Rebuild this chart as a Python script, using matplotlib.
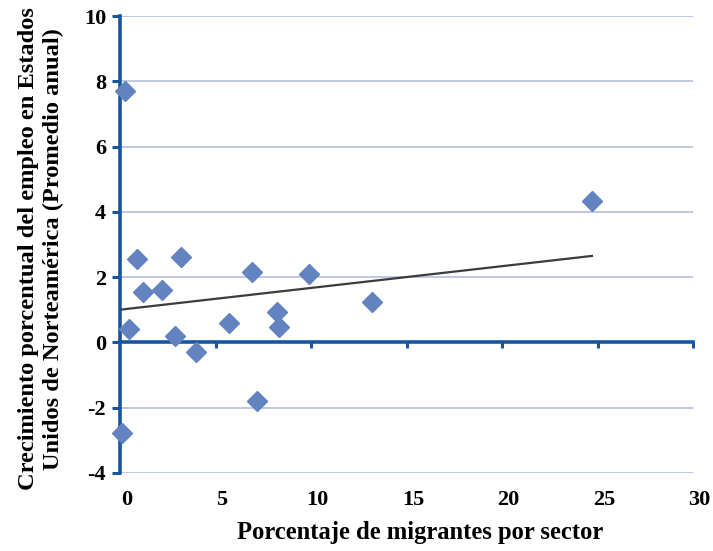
import numpy as np
import matplotlib
matplotlib.use("Agg")
import matplotlib.pyplot as plt
from matplotlib.transforms import ScaledTranslation

# ---- data ----
pct_migrants = [0.26, 0.08, 0.47, 0.89, 1.20, 2.20, 2.88, 3.19, 3.98,
                5.71, 6.91, 7.17, 8.22, 8.32, 9.90, 13.19, 24.71]
emp_growth = [7.70, -2.78, 0.42, 2.57, 1.53, 1.62, 0.21, 2.63, -0.30,
              0.61, 2.17, -1.80, 0.92, 0.46, 2.11, 1.25, 4.34]
x_ticks = [0, 5, 10, 15, 20, 25, 30]
y_ticks = [-4, -2, 0, 2, 4, 6, 8, 10]
x_label = "Porcentaje de migrantes por sector"
y_label = "Crecimiento porcentual del empleo en Estados\nUnidos de Norteamérica (Promedio anual)"

AXIS_BLUE = "#17569f"
GRID = "#b3bfe3"
MARKER = "#6283c0"
TREND = "#3c3c3c"

plt.rcParams["font.family"] = ["Liberation Serif", "DejaVu Serif"]
plt.rcParams["font.weight"] = "bold"
plt.rcParams["axes.unicode_minus"] = False

fig = plt.figure(figsize=(7.13, 5.51), dpi=100)
ax = fig.add_axes([120 / 713, 78 / 551, 573 / 713, 457 / 551])
ax.set_xlim(x_ticks[0], x_ticks[-1])
ax.set_ylim(y_ticks[0], y_ticks[-1])

# grid
ax.set_yticks(y_ticks)
ax.yaxis.grid(True, color=GRID, linewidth=1.2)
ax.set_axisbelow(True)

# spines
for s in ("top", "right"):
    ax.spines[s].set_visible(False)
ax.spines["left"].set_color(AXIS_BLUE)
ax.spines["left"].set_linewidth(2.6)
ax.spines["left"].set_zorder(3)
ax.spines["bottom"].set_position(("data", 0))
ax.spines["bottom"].set_color(AXIS_BLUE)
ax.spines["bottom"].set_linewidth(2.6)
ax.spines["bottom"].set_zorder(3)

ax.set_xticks(x_ticks[1:])
ax.tick_params(axis="x", direction="out", length=4.5, width=2.2,
               color=AXIS_BLUE, labelbottom=False)
ax.tick_params(axis="y", direction="out", length=6, width=2.2,
               color=AXIS_BLUE, labelsize=16, pad=4)

# x tick labels along the bottom edge
sec = ax.secondary_xaxis("bottom")
sec.set_xticks(x_ticks)
sec.spines["bottom"].set_visible(False)
sec.tick_params(length=0, labelsize=16, pad=12)
off = ScaledTranslation(6.5 / 100, 0, fig.dpi_scale_trans)
for t in sec.xaxis.get_major_ticks():
    t.label1.set_transform(t.label1.get_transform() + off)

# scatter
ax.plot(pct_migrants, emp_growth, linestyle="none", marker="D",
        markersize=10, color=MARKER, clip_on=False, zorder=4)

# linear trend line
xs = np.array(pct_migrants)
ys = np.array(emp_growth)
slope, intercept = np.polyfit(xs, ys, 1)
xl = np.array([xs.min(), xs.max()])
ax.plot(xl, slope * xl + intercept, color=TREND, linewidth=1.6, zorder=5)

# axis titles
fig.text(420 / 713, 1 - 533 / 551, x_label, ha="center", va="center",
         fontsize=17.7, fontweight="bold")
fig.text(41 / 713, 1 - 249 / 551, y_label, ha="center", va="center",
         rotation=90, fontsize=17.6, fontweight="bold", linespacing=1.2,
         multialignment="center")

fig.savefig("out.png", dpi=100)
